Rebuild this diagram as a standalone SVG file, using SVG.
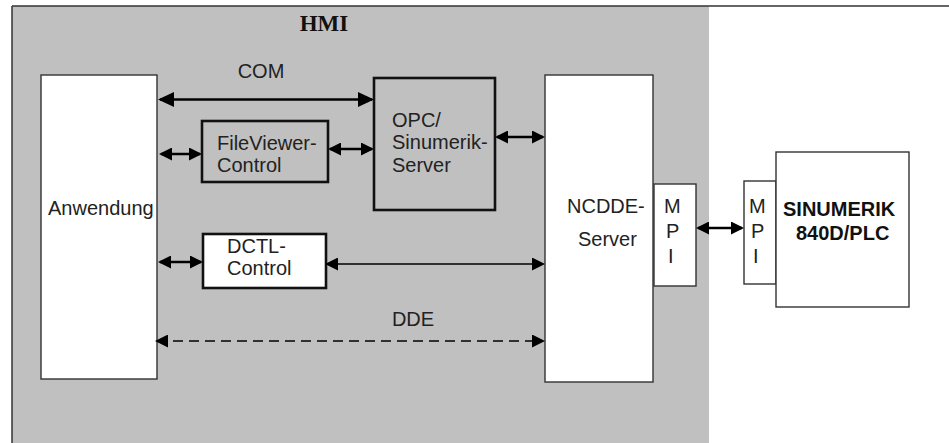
<svg xmlns="http://www.w3.org/2000/svg" width="949" height="443" viewBox="0 0 949 443">
<style>
  text { font-family: "Liberation Sans", Arial, sans-serif; font-size: 20px; fill: #222; }
  .hmi { font-family: "Liberation Serif", "Times New Roman", serif; font-weight: bold; font-size: 23px; fill: #111; }
  .bold { font-weight: bold; fill: #111; }
  .thin { fill: #fff; stroke: #333; stroke-width: 1.4; }
  .thick { fill: none; stroke: #111; stroke-width: 2.6; }
  .thickw { fill: #fff; stroke: #111; stroke-width: 2.6; }
  .c-thick { fill: none; stroke: #000; stroke-width: 2.6; }
  .c-thin { fill: none; stroke: #000; stroke-width: 1.4; }
  .dash { stroke-dasharray: 10 6; }
</style>
<defs>
  <marker id="ah" markerUnits="userSpaceOnUse" viewBox="0 0 13 13" markerWidth="13" markerHeight="13" refX="11" refY="6.5" orient="auto-start-reverse">
    <path d="M0,0 L13,6.5 L0,13 z" fill="#000"/>
  </marker>
  <marker id="ahL" markerUnits="userSpaceOnUse" viewBox="0 0 16 15" markerWidth="16" markerHeight="15" refX="14" refY="7.5" orient="auto-start-reverse">
    <path d="M0,0 L16,7.5 L0,15 z" fill="#000"/>
  </marker>
</defs>

<g id="hmi-frame">
  <rect x="12" y="6" width="697" height="437" fill="#c0c0c0"/>
  <line x1="12" y1="6" x2="949" y2="6" stroke="#333" stroke-width="1.5"/>
  <line x1="12" y1="6" x2="12" y2="443" stroke="#333" stroke-width="1.5"/>
  <text class="hmi" x="324" y="31" text-anchor="middle">HMI</text>
</g>

<g id="anwendung">
  <rect class="thin" x="41" y="75" width="116" height="304"/>
  <text x="48" y="215">Anwendung</text>
</g>

<g id="opc-server">
  <rect class="thick" x="374" y="78" width="121" height="132"/>
  <text x="392" y="127">OPC/</text>
  <text x="392" y="149">Sinumerik-</text>
  <text x="392" y="172">Server</text>
</g>

<g id="fileviewer">
  <rect class="thick" x="202" y="121" width="126" height="61"/>
  <text x="217" y="150">FileViewer-</text>
  <text x="217" y="172">Control</text>
</g>

<g id="dctl">
  <rect class="thickw" x="203" y="234" width="123" height="54"/>
  <text x="227" y="253">DCTL-</text>
  <text x="227" y="275">Control</text>
</g>

<g id="ncdde">
  <rect class="thin" x="545" y="75" width="108" height="307"/>
  <text x="567" y="213">NCDDE-</text>
  <text x="578" y="246">Server</text>
</g>

<g id="mpi-left">
  <rect class="thin" x="654" y="184" width="42" height="102"/>
  <text x="664" y="213">M</text>
  <text x="666" y="238">P</text>
  <text x="668" y="263">I</text>
</g>

<g id="mpi-right">
  <rect class="thin" x="744" y="181" width="32" height="103"/>
  <text x="749" y="213">M</text>
  <text x="751" y="238">P</text>
  <text x="753" y="263">I</text>
</g>

<g id="sinumerik">
  <rect class="thin" x="776" y="152" width="133" height="155"/>
  <text class="bold" x="783" y="216">SINUMERIK</text>
  <text class="bold" x="796" y="240">840D/PLC</text>
</g>

<g id="connectors">
  <line class="c-thick" x1="160" y1="99.5" x2="372" y2="99.5" marker-start="url(#ahL)" marker-end="url(#ahL)"/>
  <text x="261" y="78" text-anchor="middle">COM</text>
  <line class="c-thick" x1="161" y1="154" x2="200" y2="154" marker-start="url(#ah)" marker-end="url(#ah)"/>
  <line class="c-thick" x1="330" y1="149" x2="372" y2="149" marker-start="url(#ah)" marker-end="url(#ah)"/>
  <line class="c-thick" x1="497" y1="137" x2="543" y2="137" marker-start="url(#ah)" marker-end="url(#ah)"/>
  <line class="c-thick" x1="160" y1="262" x2="201" y2="262" marker-start="url(#ah)" marker-end="url(#ah)"/>
  <line class="c-thin" x1="327" y1="264" x2="543" y2="264" marker-start="url(#ah)" marker-end="url(#ah)"/>
  <line class="c-thin dash" x1="157" y1="341" x2="543" y2="341" marker-start="url(#ah)" marker-end="url(#ah)"/>
  <text x="413" y="326" text-anchor="middle">DDE</text>
  <line class="c-thick" x1="698" y1="228" x2="742" y2="228" marker-start="url(#ah)" marker-end="url(#ah)"/>
</g>
</svg>
